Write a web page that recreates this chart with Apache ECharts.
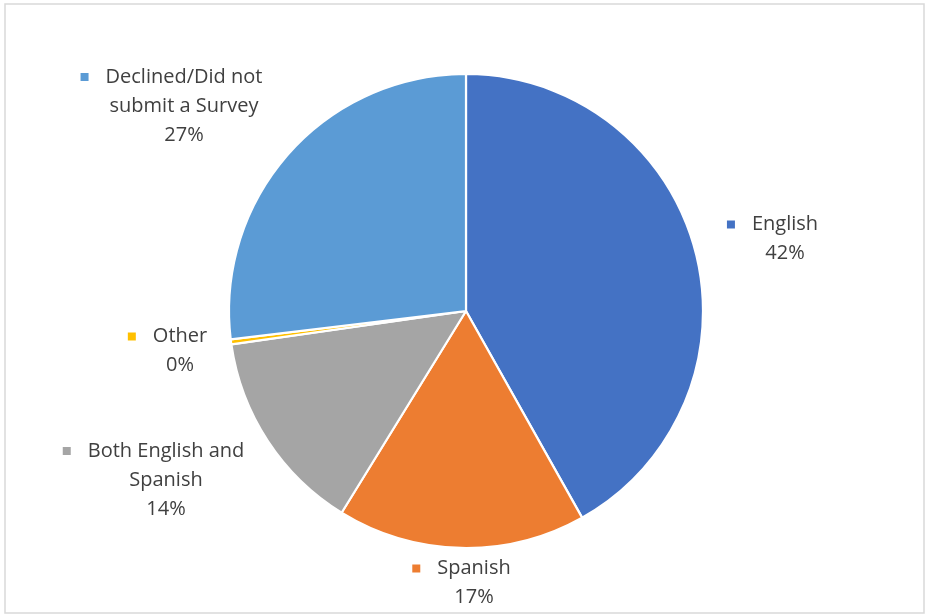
<!DOCTYPE html>
<html>
<head>
<meta charset="utf-8">
<script src="https://cdn.jsdelivr.net/npm/echarts@6/dist/echarts.min.js"></script>
<style>
  html, body { margin: 0; padding: 0; background: #fff; }
  #chart { width: 928px; height: 615px; }
</style>
</head>
<body>
<div id="chart"></div>
<script>
const categories = ['English', 'Spanish', 'Both English and Spanish', 'Other', 'Declined/Did not submit a Survey']
const shares = [42, 17, 14, 0.35, 27]
const colors = ['#4472C4', '#ED7D31', '#A5A5A5', '#FFC000', '#5B9BD5']
// where Excel put each label block (center)
const labelPos = [[785, 239], [474, 583], [166, 480], [180, 351], [184, 106]]
const wrapped = {
  'Both English and Spanish': ['Both English and', 'Spanish'],
  'Declined/Did not submit a Survey': ['Declined/Did not', 'submit a Survey']
}

const chart = echarts.init(document.getElementById('chart'))

const seriesData = categories.map((name, i) => {
  return {
    name: name,
    value: shares[i],
    itemStyle: { color: colors[i] },
    label: {
      rich: {
        sq: { width: 8, height: 8, backgroundColor: colors[i] },
        gap: { width: 17 },
        pad: { width: 25 }
      }
    }
  }
})

const option = {
  animation: false,
  backgroundColor: '#fff',
  graphic: [{
    type: 'rect',
    shape: { x: 5, y: 4, width: 919, height: 609 },
    style: { fill: 'none', stroke: '#d9d9d9', lineWidth: 1.5 }
  }],
  series: [{
    type: 'pie',
    center: [466, 311],
    radius: 237,
    startAngle: 90,
    clockwise: true,
    itemStyle: { borderColor: '#fff', borderWidth: 2.2 },
    labelLine: { show: false },
    label: {
      show: true,
      position: 'outside',
      color: '#404040',
      fontFamily: 'Open Sans',
      fontSize: 20,
      lineHeight: 29,
      align: 'center',
      formatter: (p) => {
        const lines = wrapped[p.name] || [p.name]
        let txt = '{sq|}{gap|}' + lines[0] + '{pad|}'
        for (let k = 1; k < lines.length; k++) txt += '\n' + lines[k]
        return txt + '\n' + Math.round(p.percent) + '%'
      }
    },
    labelLayout: (params) => {
      const pos = labelPos[params.dataIndex]
      return { x: pos[0], y: pos[1], align: 'center', verticalAlign: 'middle' }
    },
    data: seriesData
  }]
}
chart.setOption(option)
</script>
</body>
</html>
